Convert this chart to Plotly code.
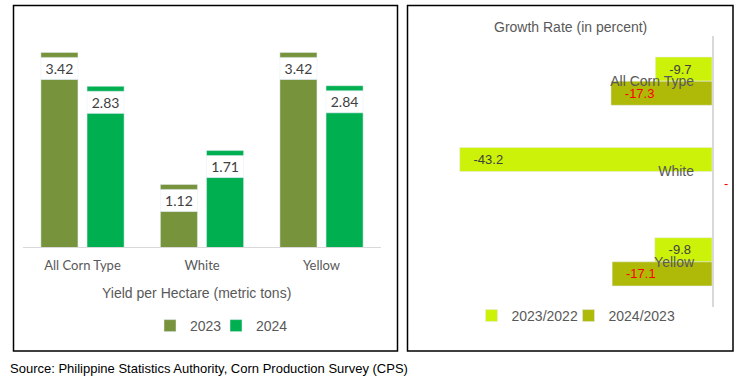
import plotly.graph_objects as go

# ---------------- data ----------------
categories = ["All Corn Type", "White", "Yellow"]
yield_2023 = [3.42, 1.12, 3.42]
yield_2024 = [2.83, 1.71, 2.84]
growth_2023_2022 = [-9.7, -43.2, -9.8]
growth_2024_2023 = [-17.3, None, -17.1]

W, H = 749, 377
C23, C24 = "#77933C", "#00B050"
G1, G2 = "#CCF20A", "#AFBA08"
ARIAL = "Liberation Sans, Arial, sans-serif"
LABEL_FONT = "Lato, Calibri, sans-serif"
PAD = "\u00a0\u00a0\u00a0"

def px_x(p):
    return p / W

def px_y(p):
    return 1 - p / H

fig = go.Figure()

# left chart geometry (data units)
GAP = 0.383     # space above bar for the label
CAP = 0.087     # thickness of cap bar
BW = 0.31       # bar width (category units)
HALF = 0.038    # half gap between bars

for vals, color, name, off, leg in [
    (yield_2023, C23, "2023", -HALF - BW, "legend"),
    (yield_2024, C24, "2024", HALF, "legend3"),
]:
    fig.add_trace(go.Bar(
        x=categories, y=vals, name=name, marker_color=color,
        width=BW, offset=off, xaxis="x", yaxis="y", legend=leg,
        hoverinfo="skip",
    ))
    fig.add_trace(go.Bar(
        x=categories, y=[GAP] * len(vals), base=vals,
        marker_color="rgba(0,0,0,0)", width=BW, offset=off,
        text=[f"{v:.2f}" for v in vals], textposition="inside",
        insidetextanchor="middle", constraintext="none",
        textfont=dict(family=LABEL_FONT, size=14, color="#404040"),
        showlegend=False, xaxis="x", yaxis="y", hoverinfo="skip",
    ))
    fig.add_trace(go.Bar(
        x=categories, y=[CAP] * len(vals), base=[v + GAP for v in vals],
        marker_color=color, width=BW, offset=off,
        showlegend=False, xaxis="x", yaxis="y", hoverinfo="skip",
    ))

# right chart
RW = 0.267
fig.add_trace(go.Bar(
    y=categories, x=growth_2023_2022, orientation="h", name="2023/2022",
    marker_color=G1, width=RW, offset=-RW, xaxis="x2", yaxis="y2",
    legend="legend2",
    text=[PAD + f"{v:.1f}" for v in growth_2023_2022], textposition="inside",
    insidetextanchor="end", constraintext="none",
    textfont=dict(family=ARIAL, size=13, color="#404040"),
    hoverinfo="skip",
))
fig.add_trace(go.Bar(
    y=categories, x=growth_2024_2023, orientation="h", name="2024/2023",
    marker_color=G2, width=RW, offset=0, xaxis="x2", yaxis="y2",
    legend="legend4",
    text=[("" if v is None else PAD + f"{v:.1f}") for v in growth_2024_2023],
    textposition="inside", insidetextanchor="end", constraintext="none",
    textfont=dict(family=ARIAL, size=13, color="#FF0000"),
    hoverinfo="skip",
))

# missing value marker
extra_ann = []
for c, v in zip(categories, growth_2024_2023):
    if v is None:
        extra_ann.append(dict(x=0, y=c, xref="x2", yref="y2", text="-",
                              showarrow=False, xshift=14, yshift=-12,
                              font=dict(family=ARIAL, size=13, color="#FF0000")))

def leg(xp, yp):
    return dict(orientation="h", x=px_x(xp), y=px_y(yp),
                xanchor="left", yanchor="middle",
                font=dict(family=ARIAL, size=14, color="#595959"),
                itemwidth=30, bgcolor="rgba(0,0,0,0)")

fig.update_layout(
    width=W, height=H,
    margin=dict(l=0, r=0, t=0, b=0),
    paper_bgcolor="white", plot_bgcolor="rgba(0,0,0,0)",
    barmode="overlay",
    showlegend=True,
    xaxis=dict(domain=[px_x(22.75), px_x(381.25)], anchor="y",
               type="category", range=[-0.5, 2.5],
               showline=True, linecolor="#D9D9D9", linewidth=1,
               ticks="", showgrid=False, zeroline=False,
               tickfont=dict(family=LABEL_FONT, size=13, color="#595959"),
               ticklabelstandoff=6),
    yaxis=dict(domain=[px_y(247), px_y(20)], anchor="x",
               range=[0.5, 4.455], visible=False, showgrid=False),
    xaxis2=dict(domain=[px_x(420), px_x(712)], anchor="y2",
                range=[-50, 0], visible=False, showgrid=False,
                zeroline=False),
    yaxis2=dict(domain=[px_y(307), px_y(36)], anchor="x2",
                type="category", range=[2.5, -0.5], side="right",
                showline=True, linecolor="#D9D9D9", linewidth=1.5,
                ticks="", showgrid=False, zeroline=False,
                ticklabelposition="inside", ticklabelstandoff=18,
                tickfont=dict(family=ARIAL, size=14, color="#595959")),
    legend=leg(150, 326),
    legend3=leg(216, 326),
    legend2=leg(471.5, 316),
    legend4=leg(568.5, 316),
    annotations=[
        dict(text="Yield per Hectare (metric tons)", x=px_x(196.5), y=px_y(293),
             xref="paper", yref="paper", xanchor="center", yanchor="middle",
             showarrow=False,
             font=dict(family=ARIAL, size=14, color="#595959")),
        dict(text="Growth Rate (in percent)", x=px_x(570), y=px_y(27),
             xref="paper", yref="paper", xanchor="center", yanchor="middle",
             showarrow=False,
             font=dict(family=ARIAL, size=14, color="#595959")),
        dict(text="Source: Philippine Statistics Authority, Corn Production Survey (CPS)",
             x=px_x(8), y=px_y(368), xref="paper", yref="paper",
             xanchor="left", yanchor="middle", showarrow=False,
             font=dict(family=ARIAL, size=13, color="#000000")),
    ] + extra_ann,
    shapes=[
        dict(type="rect", xref="paper", yref="paper",
             x0=px_x(13.5), x1=px_x(397.5), y0=px_y(351), y1=px_y(5.5),
             line=dict(color="#000000", width=1.5)),
        dict(type="rect", xref="paper", yref="paper",
             x0=px_x(407.5), x1=px_x(733), y0=px_y(351), y1=px_y(5.5),
             line=dict(color="#000000", width=1.5)),
    ],
)

fig.write_html("out.html", config={"displayModeBar": False},
               post_script="document.body.style.margin='0';document.body.style.overflow='hidden';")
